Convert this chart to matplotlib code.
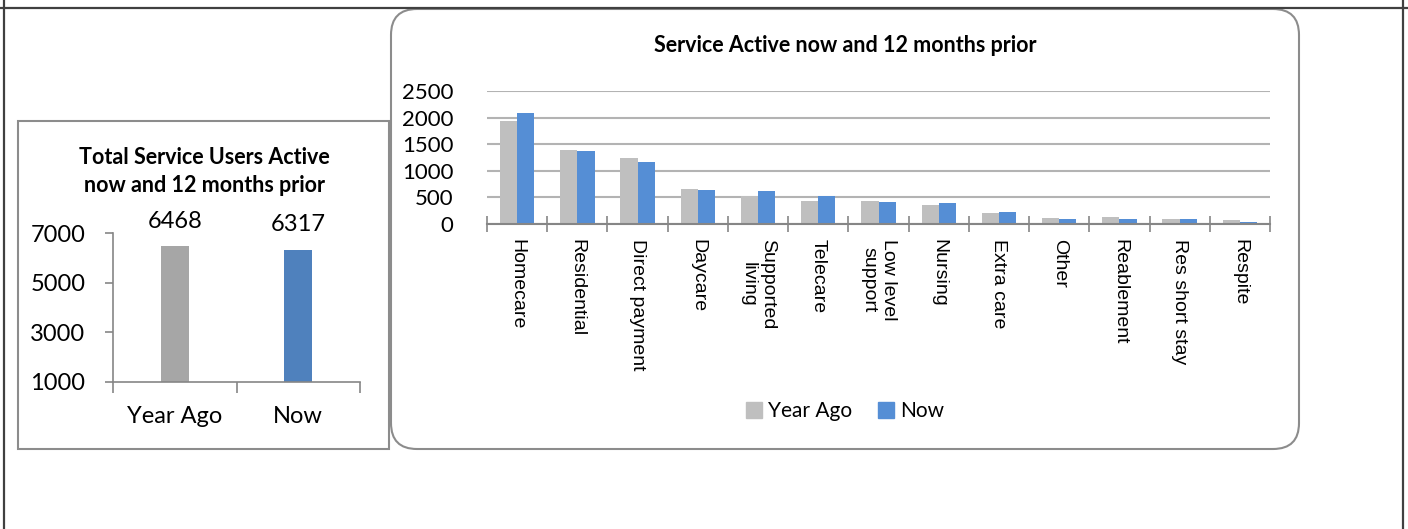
import numpy as np
import matplotlib
matplotlib.use("Agg")
import matplotlib.pyplot as plt
from matplotlib.patches import FancyBboxPatch, Rectangle, Patch
from matplotlib.lines import Line2D
from matplotlib.transforms import IdentityTransform

# data
total_cats = ["Year Ago", "Now"]
total_vals = [6468, 6317]

services = ["Homecare", "Residential", "Direct payment", "Daycare", "Supported\nliving",
            "Telecare", "Low level\nsupport", "Nursing", "Extra care", "Other",
            "Reablement", "Res short stay", "Respite"]
year_ago = [1937, 1386, 1247, 658, 532, 437, 424, 354, 209, 114, 133, 95, 76]
now = [2082, 1373, 1171, 633, 620, 525, 405, 392, 222, 101, 89, 89, 38]

W, H = 1408, 529
plt.rcParams['font.family'] = ['Lato', 'DejaVu Sans']

fig = plt.figure(figsize=(W / 100, H / 100), dpi=100)

def fx(x):   # pixel x -> figure fraction
    return x / W

def fy(y):   # pixel y (from top) -> figure fraction
    return 1 - y / H

# table frame around the charts
frame_c = "#404040"
fig.add_artist(Line2D([fx(0), fx(W)], [fy(8), fy(8)], color=frame_c, lw=1.6))
fig.add_artist(Line2D([fx(4), fx(4)], [0, 1], color=frame_c, lw=1.6))
fig.add_artist(Line2D([fx(1403), fx(1403)], [0, 1], color=frame_c, lw=1.6))

# chart boxes (pixel coords)
fig.add_artist(Rectangle((18, H - 449), 371, 328, transform=IdentityTransform(),
                         fill=False, ec="#8c8c8c", lw=1.5))
fig.add_artist(FancyBboxPatch((391, H - 449), 908, 440, transform=IdentityTransform(),
                              boxstyle="round,pad=0,rounding_size=26",
                              fill=False, ec="#8c8c8c", lw=1.5))

# ---------- left chart ----------
ax1 = fig.add_axes([fx(113), fy(382), fx(247), 149 / H])
x1 = np.arange(len(total_cats))
ax1.bar(x1, total_vals, width=0.23, color=["#a6a6a6", "#4f81bd"], zorder=2)
ax1.set_xlim(-0.5, 1.5)
ax1.set_ylim(1000, 7000)
ax1.set_yticks([1000, 3000, 5000, 7000])
ax1.set_xticks(x1)
ax1.set_xticklabels(total_cats)
ax1.set_xticks([-0.5, 0.5, 1.5], minor=True)
for s in ["top", "right"]:
    ax1.spines[s].set_visible(False)
for s in ["left", "bottom"]:
    ax1.spines[s].set_color("#868686")
    ax1.spines[s].set_linewidth(1.2)
ax1.tick_params(axis="y", labelsize=17, length=6, width=1.2, color="#868686", pad=14)
ax1.tick_params(axis="x", which="major", labelsize=17, length=0, pad=17)
ax1.tick_params(axis="x", which="minor", length=8, width=1.2, color="#868686")
for xi, v in zip(x1, total_vals):
    ax1.annotate(str(v), (xi, v), xytext=(0, 18), textcoords="offset points",
                 ha="center", va="center", fontsize=17, annotation_clip=False)
fig.text(fx(204), fy(157), "Total Service Users Active", ha="center", va="center",
         fontsize=15.5, fontweight="bold")
fig.text(fx(204), fy(186), "now and 12 months prior", ha="center", va="center",
         fontsize=15.5, fontweight="bold")

# ---------- right chart ----------
ax2 = fig.add_axes([fx(487), fy(224), fx(783), 133 / H])
x2 = np.arange(len(services))
bw = 0.285
ax2.bar(x2 - bw / 2, year_ago, width=bw, color="#bfbfbf", label="Year Ago", zorder=2)
ax2.bar(x2 + bw / 2, now, width=bw, color="#558ed5", label="Now", zorder=2)
ax2.set_xlim(-0.5, len(services) - 0.5)
ax2.set_ylim(0, 2500)
ax2.set_yticks(np.arange(0, 2501, 500))
ax2.yaxis.grid(True, color="#b3b3b3", lw=1.5, zorder=0)
ax2.set_axisbelow(True)
ax2.set_xticks(x2)
ax2.set_xticklabels(services, rotation=-90, fontsize=14, family="Liberation Sans",
                    va="top", ha="center", multialignment="center")
ax2.set_xticks(np.arange(-0.5, len(services)), minor=True)
for s in ["top", "right", "left"]:
    ax2.spines[s].set_visible(False)
ax2.spines["bottom"].set_color("#868686")
ax2.spines["bottom"].set_linewidth(1.5)
ax2.tick_params(axis="y", labelsize=16, length=0, pad=24)
ax2.tick_params(axis="x", which="major", length=0, pad=11)
ax2.tick_params(axis="x", which="minor", direction="inout", length=12, width=1.2,
                color="#868686")
fig.text(fx(845), fy(46), "Service Active now and 12 months prior", ha="center",
         va="center", fontsize=15.5, fontweight="bold")
handles = [Patch(color="#bfbfbf", label="Year Ago"), Patch(color="#558ed5", label="Now")]
fig.legend(handles=handles, loc="center", bbox_to_anchor=(fx(845), fy(411)), ncol=2,
           frameon=False, fontsize=15, handlelength=0.8, handleheight=0.8,
           handletextpad=0.3, columnspacing=1.2)

fig.savefig("out.png", dpi=100)
